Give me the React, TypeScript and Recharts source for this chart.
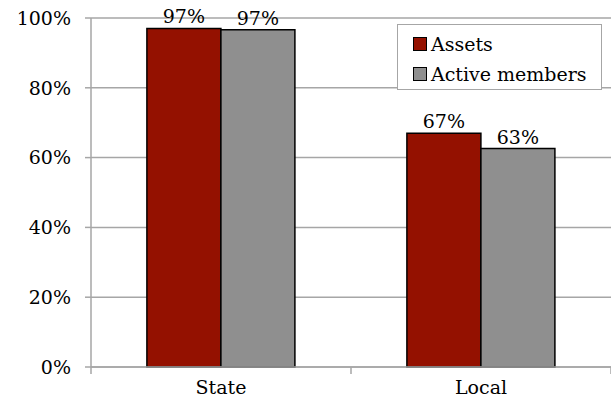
import { BarChart, Bar, XAxis, YAxis, CartesianGrid, LabelList } from "recharts"

const categories = ["State", "Local"]
const assets = [97, 67]
const activeMembers = [96.6, 62.6]
const yTicks = [0, 20, 40, 60, 80, 100]

const data = categories.map((name, i) => ({
  name,
  assets: assets[i],
  active: activeMembers[i],
}))

const FONT = "'DejaVu Serif', serif"
const FS = 19
const RED = "#941100"
const GRAY = "#8f8f8f"
const AXIS = "#a6a6a6"

const legendItems = [
  { label: "Assets", color: RED },
  { label: "Active members", color: GRAY },
]

// category label plus tick marks on the category boundaries
function CategoryTick(props: any) {
  const { x, y, payload, index } = props
  const half = payload?.offset ?? 0
  const last = index === categories.length - 1
  return (
    <g>
      <line x1={x - half} x2={x - half} y1={y} y2={y + 7} stroke={AXIS} strokeWidth={1.5} />
      {last && <line x1={x + half} x2={x + half} y1={y} y2={y + 7} stroke={AXIS} strokeWidth={1.5} />}
      <text x={x} y={y + 14} dy="0.71em" textAnchor="middle" fill="#000" fontFamily={FONT} fontSize={FS}>
        {payload.value}
      </text>
    </g>
  )
}

function LegendBox() {
  return (
    <div
      style={{
        position: "absolute",
        left: 397,
        top: 24,
        border: `1.5px solid ${AXIS}`,
        background: "#fff",
        width: 205,
        height: 66,
        boxSizing: "border-box",
        padding: "4px 0 0 15px",
        fontFamily: FONT,
        fontSize: FS,
        color: "#000",
      }}
    >
      {legendItems.map((it) => (
        <div key={it.label} style={{ display: "flex", alignItems: "center", height: 30 }}>
          <span
            style={{
              width: 12,
              height: 12,
              background: it.color,
              border: "1px solid #000",
              marginRight: 4,
              display: "inline-block",
            }}
          />
          <span>{it.label}</span>
        </div>
      ))}
    </div>
  )
}

export default function App() {
  return (
    <div style={{ position: "absolute", left: 0, top: 0, width: 611, height: 408, background: "#fff" }}>
      <BarChart
        width={611}
        height={408}
        data={data}
        margin={{ top: 18, right: 0, left: 0, bottom: 0 }}
        barCategoryGap="21.5%"
        barGap={0}
      >
        <CartesianGrid vertical={false} stroke={AXIS} strokeWidth={1.5} />
        <XAxis
          dataKey="name"
          height={41}
          axisLine={{ stroke: AXIS, strokeWidth: 1.5 }}
          tickLine={false}
          tickSize={0}
          tickMargin={0}
          tick={<CategoryTick />}
        />
        <YAxis
          width={91}
          domain={[0, 100]}
          ticks={yTicks}
          tickFormatter={(v: number) => `${v}%`}
          axisLine={{ stroke: AXIS, strokeWidth: 1.5 }}
          tickLine={{ stroke: AXIS, strokeWidth: 1.5 }}
          tickSize={6}
          tickMargin={14}
          tick={{ fill: "#000", fontFamily: FONT, fontSize: FS }}
        />
        <Bar dataKey="assets" name="Assets" fill={RED} stroke="#000" strokeWidth={1.5} isAnimationActive={false}>
          <LabelList
            dataKey="assets"
            position="top"
            offset={5}
            formatter={(v: number) => `${Math.round(v)}%`}
            style={{ fill: "#000", fontFamily: FONT, fontSize: FS }}
          />
        </Bar>
        <Bar dataKey="active" name="Active members" fill={GRAY} stroke="#000" strokeWidth={1.5} isAnimationActive={false}>
          <LabelList
            dataKey="active"
            position="top"
            offset={5}
            formatter={(v: number) => `${Math.round(v)}%`}
            style={{ fill: "#000", fontFamily: FONT, fontSize: FS }}
          />
        </Bar>
      </BarChart>
      <LegendBox />
    </div>
  )
}
